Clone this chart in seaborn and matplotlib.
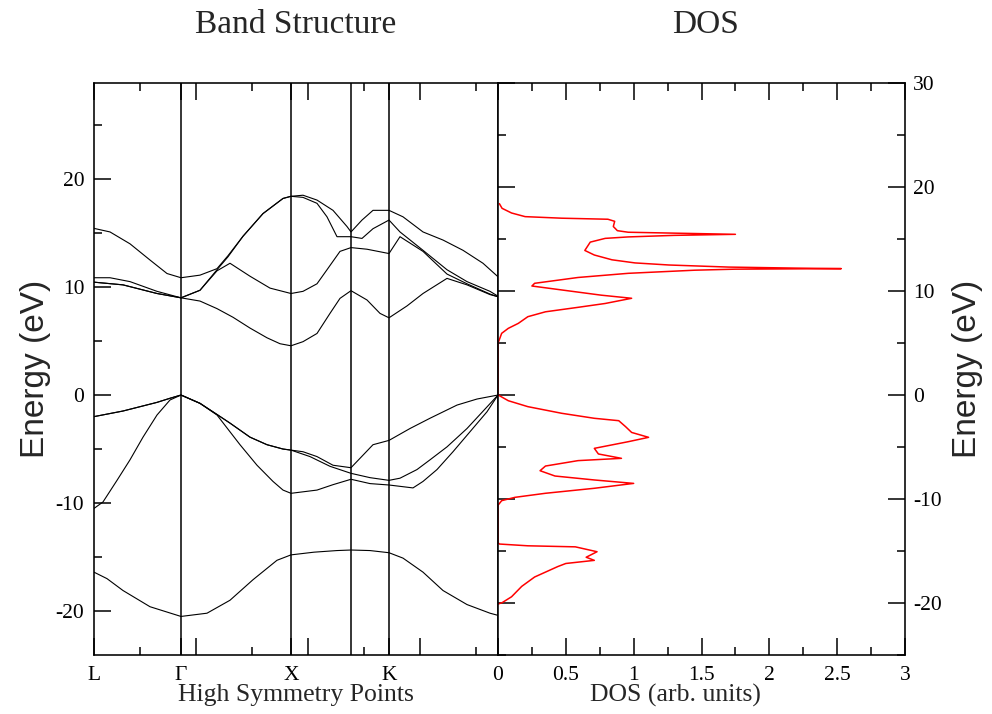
import numpy as np
import pandas as pd
import matplotlib
matplotlib.use("Agg")
import matplotlib.pyplot as plt
import seaborn as sns
from matplotlib.ticker import MultipleLocator, FixedLocator, FuncFormatter

# =========================
# DATA
# =========================

# high symmetry points along the k-path (L - G - X - W - K - G)
sym_names = ["L", "\u0393", "X", "K"]
sym_k = [0.0, 0.87, 1.97, 2.95]
line_k = [0.87, 1.97, 2.57, 2.95]   # vertical lines (G, X, W, K)
k_end = 4.04

# regular axis ticks of the band panel
reg_major_k = [1.02, 2.14, 3.26]
reg_minor_k = [0.46, 1.58, 2.70, 3.82]

# valence bands
band1_k = [0, 0.13, 0.29, 0.56, 0.87, 1.13, 1.36, 1.59, 1.83, 1.97, 2.20, 2.43, 2.57, 2.76, 2.95, 3.09, 3.29, 3.49, 3.73, 3.96, 4.04]
band1_e = [-16.4, -17.0, -18.1, -19.6, -20.5, -20.2, -19.0, -17.1, -15.3, -14.8, -14.55, -14.4, -14.35, -14.4, -14.6, -15.1, -16.4, -18.1, -19.4, -20.2, -20.4]

band2_k = [0, 0.09, 0.23, 0.36, 0.49, 0.63, 0.76, 0.87, 1.06, 1.23, 1.46, 1.63, 1.79, 1.89, 1.97, 2.23, 2.39, 2.57, 2.76, 2.95, 3.19, 3.29, 3.43, 3.59, 3.76, 3.93, 4.04]
band2_e = [-10.5, -9.9, -7.9, -6.0, -3.9, -1.85, -0.46, 0.0, -0.77, -1.85, -4.6, -6.5, -8.0, -8.8, -9.1, -8.8, -8.3, -7.8, -8.2, -8.33, -8.6, -8.0, -6.9, -5.25, -3.4, -1.55, 0.0]

band3_k = [0, 0.29, 0.63, 0.76, 0.87, 1.06, 1.23, 1.36, 1.56, 1.73, 1.89, 1.97, 2.16, 2.36, 2.57, 2.76, 2.95, 3.06, 3.23, 3.36, 3.53, 3.73, 3.89, 4.04]
band3_e = [-2.0, -1.48, -0.68, -0.3, 0.0, -0.77, -1.8, -2.6, -3.9, -4.6, -5.0, -5.1, -5.7, -6.6, -7.25, -7.65, -7.9, -7.7, -6.9, -6.0, -4.8, -3.1, -1.5, 0.0]

band4_k = [0, 0.29, 0.63, 0.76, 0.87, 1.06, 1.23, 1.36, 1.56, 1.73, 1.89, 1.97, 2.09, 2.23, 2.39, 2.57, 2.79, 2.95, 3.16, 3.36, 3.63, 3.83, 4.04]
band4_e = [-2.0, -1.48, -0.68, -0.3, 0.0, -0.77, -1.8, -2.6, -3.9, -4.6, -5.0, -5.1, -5.25, -5.7, -6.5, -6.73, -4.6, -4.2, -3.1, -2.15, -0.93, -0.37, 0.0]

# conduction bands
band5_k = [0, 0.29, 0.63, 0.87, 1.06, 1.23, 1.39, 1.56, 1.73, 1.86, 1.97, 2.09, 2.23, 2.36, 2.46, 2.57, 2.73, 2.86, 2.95, 3.13, 3.29, 3.53, 3.73, 3.96, 4.04]
band5_e = [10.45, 10.2, 9.4, 9.0, 8.7, 8.0, 7.2, 6.2, 5.3, 4.75, 4.56, 4.94, 5.7, 7.56, 8.95, 9.66, 8.8, 7.56, 7.15, 8.25, 9.4, 10.8, 10.2, 9.3, 9.1]

band6_k = [0, 0.29, 0.63, 0.87, 1.06, 1.23, 1.36, 1.56, 1.76, 1.97, 2.09, 2.23, 2.33, 2.46, 2.57, 2.73, 2.95, 3.06, 3.29, 3.53, 3.73, 3.96, 4.04]
band6_e = [10.45, 10.2, 9.4, 9.0, 9.7, 11.5, 12.2, 11.0, 9.9, 9.4, 9.6, 10.3, 11.6, 13.3, 13.65, 13.5, 13.1, 14.66, 13.3, 11.2, 10.3, 9.35, 9.1]

band7_k = [0, 0.16, 0.36, 0.63, 0.87, 1.06, 1.23, 1.34, 1.49, 1.69, 1.89, 1.97, 2.09, 2.23, 2.33, 2.43, 2.57, 2.68, 2.79, 2.95, 3.06, 3.29, 3.53, 3.73, 3.96, 4.04]
band7_e = [10.86, 10.86, 10.5, 9.6, 9.0, 9.7, 11.6, 12.8, 14.7, 16.8, 18.2, 18.4, 18.3, 17.75, 16.5, 14.66, 14.66, 14.5, 15.4, 16.2, 15.1, 13.4, 11.6, 10.5, 9.6, 9.15]

band8_k = [0, 0.16, 0.36, 0.56, 0.73, 0.87, 1.06, 1.23, 1.34, 1.49, 1.69, 1.89, 1.97, 2.09, 2.23, 2.39, 2.53, 2.57, 2.68, 2.79, 2.95, 3.09, 3.29, 3.49, 3.69, 3.89, 4.04]
band8_e = [15.43, 15.1, 14.0, 12.5, 11.25, 10.86, 11.1, 11.7, 12.9, 14.7, 16.8, 18.2, 18.4, 18.5, 18.05, 17.1, 15.6, 15.1, 16.2, 17.1, 17.1, 16.5, 15.1, 14.35, 13.4, 12.2, 10.95]

# density of states (energy, DOS) from bottom to top
dos_energy = [-20.1, -19.97, -19.4, -18.4, -17.5, -16.5, -16.2, -15.9, -15.6, -15.07, -14.6, -14.5, -14.33, -14.2,
              -10.7, -10.6, -10.16, -9.84, -9.45, -8.97, -8.5, -8.17, -7.79, -7.28, -6.83, -6.31, -6.09, -5.67,
              -5.13, -4.49, -4.07, -3.6, -3.04, -2.47, -2.24, -1.76, -1.12, -0.55, -0.1, 0.0,
              4.9, 4.97, 5.93, 6.41, 6.89, 7.53, 8.0, 8.43, 8.8, 9.3, 9.6, 10.1, 10.48, 10.74, 11.3, 11.7,
              12.0, 12.1, 12.15, 12.2, 12.3, 12.5, 12.7, 13.0, 13.46, 13.9, 14.7, 15.06, 15.2, 15.35, 15.45,
              15.55, 15.65, 15.8, 16.2, 16.7, 16.9, 17.0, 17.15, 17.5, 17.95, 18.4]
dos_value = [0.0, 0.03, 0.1, 0.175, 0.27, 0.44, 0.5, 0.71, 0.65, 0.73, 0.57, 0.22, 0.01, 0.0,
             0.0, 0.0, 0.027, 0.125, 0.35, 0.71, 1.0, 0.71, 0.42, 0.31, 0.35, 0.59, 0.91, 0.74,
             0.71, 0.96, 1.11, 0.985, 0.94, 0.89, 0.71, 0.47, 0.22, 0.076, 0.015, 0.0,
             0.0, 0.0, 0.027, 0.076, 0.15, 0.22, 0.35, 0.59, 0.79, 0.985, 0.76, 0.47, 0.25, 0.27, 0.59, 0.96,
             1.45, 1.75, 2.53, 2.2, 1.7, 1.26, 1.01, 0.84, 0.71, 0.64, 0.68, 0.79, 0.96, 1.3, 1.75,
             1.35, 0.96, 0.88, 0.85, 0.86, 0.81, 0.47, 0.2, 0.1, 0.03, 0.01]

# =========================
# BUILD LONG TABLE FOR SEABORN
# =========================

band_k = [band1_k, band2_k, band3_k, band4_k, band5_k, band6_k, band7_k, band8_k]
band_e = [band1_e, band2_e, band3_e, band4_e, band5_e, band6_e, band7_e, band8_e]

frames = []
for i, (kk, ee) in enumerate(zip(band_k, band_e)):
    frames.append(pd.DataFrame({"k": kk, "E": ee, "band": i + 1}))
bands = pd.concat(frames, ignore_index=True)

dos = pd.DataFrame({"dos": dos_value, "E": dos_energy})

# =========================
# STYLE
# =========================

sns.set_style("ticks")
plt.rcParams["font.family"] = ["Liberation Serif", "DejaVu Serif"]
plt.rcParams["axes.unicode_minus"] = False
plt.rcParams["axes.linewidth"] = 1.15
plt.rcParams["axes.edgecolor"] = "black"
plt.rcParams["xtick.color"] = "black"
plt.rcParams["ytick.color"] = "black"

fig = plt.figure(figsize=(9.92, 7.14), dpi=100)
ax1 = fig.add_axes([94 / 992, 59 / 714, 404 / 992, 572 / 714])
ax2 = fig.add_axes([498 / 992, 59 / 714, 407 / 992, 572 / 714])

# =========================
# BAND STRUCTURE
# =========================

sns.lineplot(data=bands, x="k", y="E", units="band", estimator=None, sort=False,
             color="black", lw=0.8, ax=ax1, legend=False)
for kk in line_k:
    ax1.axvline(kk, color="black", lw=1.1)

ax1.set_xlim(0, k_end)
ax1.set_ylim(-24.07, 28.89)

major_k = sorted(sym_k + reg_major_k)
major_lab = [sym_names[sym_k.index(v)] if v in sym_k else "" for v in major_k]
ax1.xaxis.set_major_locator(FixedLocator(major_k))
ax1.set_xticklabels(major_lab)
ax1.xaxis.set_minor_locator(FixedLocator(reg_minor_k))
ax1.yaxis.set_major_locator(MultipleLocator(10))
ax1.yaxis.set_minor_locator(MultipleLocator(5))
ax1.tick_params(which="both", direction="in", top=True, bottom=True, left=True, right=False,
                labelsize=15.5, width=1.1)
ax1.tick_params(axis="x", which="major", pad=8)
ax1.tick_params(axis="y", which="major", pad=7)
ax1.tick_params(which="major", length=12)
ax1.tick_params(which="minor", length=6)

ax1.set_xlabel("High Symmetry Points", fontsize=18.5)
ax1.xaxis.set_label_coords(0.5, -0.05)
ax1.set_ylabel("Energy (eV)", fontsize=24, family=["Liberation Sans"], labelpad=3)
ax1.set_title("Band Structure", fontsize=24, pad=36)

# =========================
# DOS
# =========================

sns.lineplot(data=dos, x="dos", y="E", estimator=None, sort=False,
             color="red", lw=1.1, ax=ax2, legend=False)

ax2.set_xlim(0, 3)
ax2.set_ylim(-25, 30)
ax2.xaxis.set_major_locator(MultipleLocator(0.5))
ax2.xaxis.set_minor_locator(MultipleLocator(0.25))
ax2.xaxis.set_major_formatter(FuncFormatter(lambda v, p: "%g" % v))
ax2.yaxis.set_major_locator(MultipleLocator(10))
ax2.yaxis.set_minor_locator(MultipleLocator(5))
ax2.yaxis.tick_right()
ax2.yaxis.set_label_position("right")
ax2.tick_params(which="both", direction="in", top=True, bottom=True, left=True, right=True,
                labelleft=False, labelright=True, labelsize=15.5, width=1.1)
ax2.tick_params(axis="x", which="major", pad=8)
ax2.tick_params(axis="y", which="major", pad=6)
ax2.tick_params(which="major", length=12)
ax2.tick_params(which="minor", length=6)

ax2.set_xlabel("DOS (arb. units)", fontsize=18.5)
ax2.xaxis.set_label_coords(0.437, -0.05)
ax2.set_ylabel("Energy (eV)", fontsize=24, family=["Liberation Sans"], labelpad=7, rotation=90)
ax2.set_title("DOS", fontsize=24, pad=36, x=0.51)

fig.savefig("out.png", dpi=100)
